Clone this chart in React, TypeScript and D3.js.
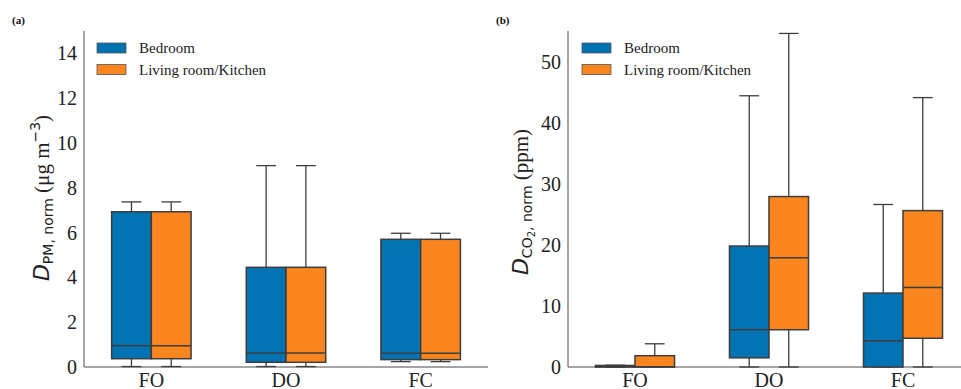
import React, { useEffect, useRef } from 'react';
import * as d3 from 'd3';

// categories and series
const categories = ['FO', 'DO', 'FC'];
const rooms = ['Bedroom', 'Living room/Kitchen'];
const roomColors = ['#0173b2', '#fb861f'];

// box stats: [whiskerLow, q1, median, q3, whiskerHigh]
const pmBedroom = [
    [0.02, 0.37, 0.95, 6.93, 7.37],
    [0.02, 0.21, 0.62, 4.45, 8.99],
    [0.24, 0.33, 0.61, 5.7, 5.97],
];
const pmLiving = [
    [0.02, 0.37, 0.95, 6.93, 7.37],
    [0.02, 0.21, 0.62, 4.45, 8.99],
    [0.24, 0.33, 0.61, 5.7, 5.97],
];
const co2Bedroom = [
    [0, 0, 0.1, 0.25, 0.3],
    [0, 1.5, 6.1, 19.8, 44.4],
    [0, 0, 4.3, 12.1, 26.6],
];
const co2Living = [
    [0, 0, 0.05, 1.85, 3.8],
    [0, 6.1, 17.9, 27.9, 54.6],
    [0, 4.7, 13.0, 25.6, 44.1],
];
const pmTicks = [0, 2, 4, 6, 8, 10, 12, 14];
const co2Ticks = [0, 10, 20, 30, 40, 50];

const W = 961;
const H = 389;
const SERIF = "'Liberation Serif', 'Times New Roman', Times, serif";
const SANS = "'DejaVu Sans', sans-serif";

function drawPanel(svg, opts) {
    const { left, right, top, bottom, yMax, ticks, series, panelLabel, labelX, legendX, ylabel } = opts;
    const g = svg.append('g');

    const x = d3.scaleBand().domain(categories).range([left, right]);
    const y = d3.scaleLinear().domain([0, yMax]).range([bottom, top]);
    const boxW = x.bandwidth() * 0.295;

    // spines
    g.append('line').attr('x1', left).attr('x2', left).attr('y1', top).attr('y2', bottom)
        .attr('stroke', '#4a4a4a').attr('stroke-width', 1);
    g.append('line').attr('x1', left).attr('x2', right).attr('y1', bottom).attr('y2', bottom)
        .attr('stroke', '#4a4a4a').attr('stroke-width', 1);

    // y ticks
    g.selectAll('text.yt').data(ticks).join('text')
        .attr('class', 'yt')
        .attr('x', left - 7)
        .attr('y', (d) => y(d))
        .attr('dy', '0.35em')
        .attr('text-anchor', 'end')
        .style('font-family', SERIF)
        .attr('font-size', 20)
        .attr('fill', '#222')
        .text((d) => d);

    // x ticks
    g.selectAll('text.xt').data(categories).join('text')
        .attr('class', 'xt')
        .attr('x', (d) => x(d) + x.bandwidth() / 2)
        .attr('y', bottom + 20)
        .attr('text-anchor', 'middle')
        .style('font-family', SERIF)
        .attr('font-size', 20)
        .attr('fill', '#222')
        .text((d) => d);

    // boxes
    series.forEach((s, si) => {
        s.forEach((st, ci) => {
            const cx = x(categories[ci]) + x.bandwidth() / 2 + (si === 0 ? -boxW / 2 : boxW / 2);
            const [lo, q1, med, q3, hi] = st;
            const bg = g.append('g');
            bg.append('line').attr('x1', cx).attr('x2', cx).attr('y1', y(q3)).attr('y2', y(hi))
                .attr('stroke', '#3d3d3d').attr('stroke-width', 1.3);
            bg.append('line').attr('x1', cx).attr('x2', cx).attr('y1', y(q1)).attr('y2', y(lo))
                .attr('stroke', '#3d3d3d').attr('stroke-width', 1.3);
            bg.append('line').attr('x1', cx - boxW / 4).attr('x2', cx + boxW / 4).attr('y1', y(hi)).attr('y2', y(hi))
                .attr('stroke', '#3d3d3d').attr('stroke-width', 1.3);
            bg.append('line').attr('x1', cx - boxW / 4).attr('x2', cx + boxW / 4).attr('y1', y(lo)).attr('y2', y(lo))
                .attr('stroke', '#3d3d3d').attr('stroke-width', 1.3);
            bg.append('rect')
                .attr('x', cx - boxW / 2)
                .attr('y', y(q3))
                .attr('width', boxW)
                .attr('height', Math.max(0.5, y(q1) - y(q3)))
                .attr('fill', roomColors[si])
                .attr('stroke', '#3d3d3d')
                .attr('stroke-width', 1.5);
            bg.append('line').attr('x1', cx - boxW / 2).attr('x2', cx + boxW / 2).attr('y1', y(med)).attr('y2', y(med))
                .attr('stroke', '#3d3d3d').attr('stroke-width', 1.5);
        });
    });

    // legend
    rooms.forEach((r, i) => {
        const ly = 43 + i * 21.5;
        g.append('rect').attr('x', legendX).attr('y', ly).attr('width', 29).attr('height', 10)
            .attr('fill', roomColors[i]).attr('stroke', '#555').attr('stroke-width', 0.8);
        g.append('text').attr('x', legendX + 42).attr('y', ly + 10)
            .style('font-family', SERIF).attr('font-size', 15).attr('fill', '#222')
            .text(r);
    });

    // panel label
    g.append('text').attr('x', labelX).attr('y', 24)
        .style('font-family', SERIF).attr('font-weight', 'bold').attr('font-size', 11)
        .attr('fill', '#111').text(panelLabel);

    // y label
    const yl = g.append('text')
        .attr('transform', `translate(${ylabel.x}, ${ylabel.y}) rotate(-90)`)
        .attr('text-anchor', 'middle')
        .attr('fill', '#222');
    ylabel.build(yl);
}

export default function App() {
    const ref = useRef(null);

    useEffect(() => {
        const svg = d3.select(ref.current);
        svg.selectAll('*').remove();

        drawPanel(svg, {
            left: 84, right: 488, top: 31, bottom: 367, yMax: 15,
            ticks: pmTicks, series: [pmBedroom, pmLiving],
            panelLabel: '(a)', labelX: 12, legendX: 97,
            ylabel: {
                x: 49, y: 198,
                build: (t) => {
                    t.append('tspan').style('font-family', SANS).attr('font-style', 'italic').attr('font-size', 22).text('D');
                    t.append('tspan').style('font-family', SANS).attr('font-size', 14).attr('dy', 4).text('PM, norm');
                    t.append('tspan').style('font-family', SERIF).attr('font-size', 21).attr('dy', -4).text(' (μg m');
                    t.append('tspan').style('font-family', SANS).attr('font-size', 14).attr('dy', -9).text('−3');
                    t.append('tspan').style('font-family', SERIF).attr('font-size', 21).attr('dy', 9).text(')');
                },
            },
        });

        drawPanel(svg, {
            left: 568, right: 970, top: 31, bottom: 367, yMax: 55,
            ticks: co2Ticks, series: [co2Bedroom, co2Living],
            panelLabel: '(b)', labelX: 496, legendX: 582,
            ylabel: {
                x: 528, y: 202,
                build: (t) => {
                    t.append('tspan').style('font-family', SANS).attr('font-style', 'italic').attr('font-size', 22).text('D');
                    t.append('tspan').style('font-family', SANS).attr('font-size', 14).attr('dy', 4).text('CO');
                    t.append('tspan').style('font-family', SANS).attr('font-size', 10).attr('dy', 3).text('2');
                    t.append('tspan').style('font-family', SANS).attr('font-size', 14).attr('dy', -3).text(', norm');
                    t.append('tspan').style('font-family', SERIF).attr('font-size', 21).attr('dy', -4).text(' (ppm)');
                },
            },
        });
    }, []);

    return (
        <div style={{ position: 'absolute', left: 0, top: 0 }}>
            <svg ref={ref} width={W} height={H} style={{ display: 'block', background: '#fff' }} />
        </div>
    );
}
